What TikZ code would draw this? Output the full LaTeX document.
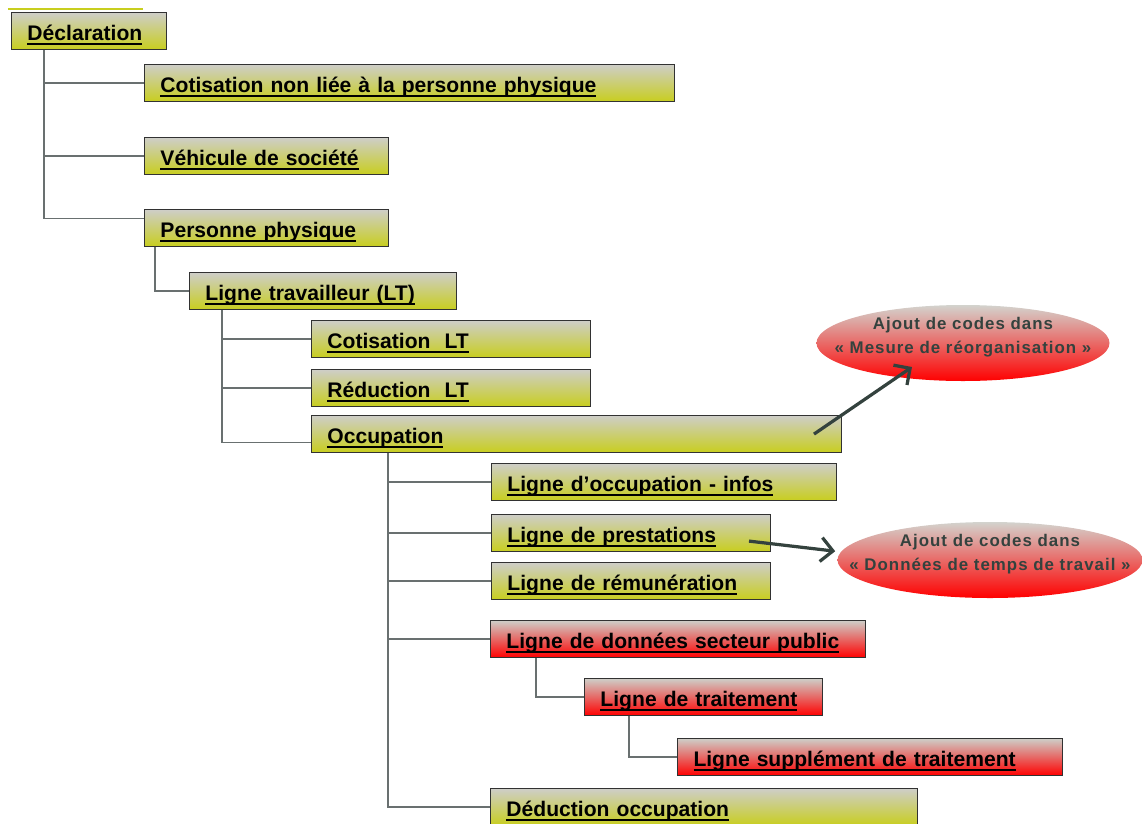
\documentclass[tikz,border=0pt]{standalone}
\usepackage{fontspec}
\setmainfont{Liberation Sans}
\newfontfamily\notefont{Liberation Sans}[LetterSpace=6.0]
\usepackage{tikz}
\usetikzlibrary{shapes.geometric,arrows.meta}

\definecolor{boxgray}{RGB}{206,206,200}
\definecolor{boxyellow}{RGB}{200,206,30}
\definecolor{boxred}{RGB}{255,0,0}
\definecolor{framegray}{RGB}{50,50,50}
\definecolor{linegray}{RGB}{105,112,112}
\definecolor{notegray}{RGB}{52,66,62}

% underlined box label, same depth for every line
\newcommand\lbl[1]{\setbox0\hbox{#1}\rlap{\rule[-3.2pt]{\wd0}{1pt}}\box0}
% centred line of zero width, so the ellipse keeps its own size
\newcommand\noteline[1]{\makebox[0pt]{#1}}

\begin{document}
\begin{tikzpicture}[
    box/.style={rectangle, draw=framegray, line width=0.7pt, top color=boxgray, bottom color=boxyellow, minimum height=0.93cm, inner xsep=0.4cm, text height=13.2pt, text depth=0pt, anchor=north west, align=left, font=\fontsize{15}{18}\selectfont\bfseries},
    redbox/.style={box, bottom color=boxred},
    note/.style={ellipse, top color=boxgray!90, bottom color=boxred, draw=none, inner sep=0pt, text height=17.5pt, text depth=3pt, align=center, text=notegray, font=\notefont\fontsize{12}{17}\selectfont\bfseries},
    link/.style={draw=linegray, line width=0.9pt},
    arrow/.style={-{Straight Barb[length=0.3cm, width=0.6cm]}, draw=notegray, line width=2.3pt}
]

\useasboundingbox (0,0) rectangle (28.575,-20.575);
\clip (0,0) rectangle (28.575,-20.575);

% leftover rule above the root
\draw[boxyellow, line width=0.8pt] (0.2,-0.225) -- (3.575,-0.225);

% Level 1
\node[box, text width=3.075cm] at (0.275,-0.3) (decl) {\lbl{Déclaration}};

% Level 2
\node[box, text width=12.45cm] at (3.6,-1.6) (cotis) {\lbl{Cotisation non liée à la personne physique}};
\node[box, text width=5.3cm] at (3.6,-3.425) (vehic) {\lbl{Véhicule de société}};
\node[box, text width=5.3cm] at (3.6,-5.225) (perso) {\lbl{Personne physique}};

% Level 3
\node[box, text width=5.875cm] at (4.725,-6.8) (lt) {\lbl{Ligne travailleur (LT)}};

% Level 4
\node[box, text width=6.175cm] at (7.775,-8.0) (cotlt) {\lbl{Cotisation\ \ LT}};
\node[box, text width=6.175cm] at (7.775,-9.225) (redlt) {\lbl{Réduction\ \ LT}};
\node[box, text width=12.45cm] at (7.775,-10.375) (occ) {\lbl{Occupation}};

% Level 5
\node[box, text width=7.825cm] at (12.275,-11.575) (ligocc) {\lbl{Ligne d’occupation - infos}};
\node[box, text width=6.175cm] at (12.275,-12.85) (ligpres) {\lbl{Ligne de prestations}};
\node[box, text width=6.175cm] at (12.275,-14.05) (ligrem) {\lbl{Ligne de rémunération}};
\node[redbox, text width=8.575cm] at (12.25,-15.5) (ligpub) {\lbl{Ligne de données secteur public}};
\node[redbox, text width=5.15cm] at (14.6,-16.95) (ligtrait) {\lbl{Ligne de traitement}};
\node[redbox, text width=8.825cm] at (16.925,-18.45) (ligsup) {\lbl{Ligne supplément de traitement}};
\node[box, text width=9.875cm] at (12.25,-19.7) (deduc) {\lbl{Déduction occupation}};

% Notes
\node[note, minimum width=7.325cm, minimum height=1.9cm] at (24.075,-8.575) (note1) {\noteline{Ajout de codes dans}\\\noteline{« Mesure de réorganisation »}};
\node[note, minimum width=7.625cm, minimum height=1.9cm] at (24.75,-14.0) (note2) {\noteline{Ajout de codes dans}\\\noteline{« Données de temps de travail »}};

% Tree lines
\draw[link] ([xshift=0.825cm]decl.south west) |- (cotis.west);
\draw[link] ([xshift=0.825cm]decl.south west) |- (vehic.west);
\draw[link] ([xshift=0.825cm]decl.south west) |- ([yshift=0.24cm]perso.west);
\draw[link] ([xshift=0.275cm]perso.south west) |- (lt.west);
\draw[link] ([xshift=0.825cm]lt.south west) |- (cotlt.west);
\draw[link] ([xshift=0.825cm]lt.south west) |- (redlt.west);
\draw[link] ([xshift=0.825cm]lt.south west) |- ([yshift=-0.21cm]occ.west);
\draw[link] ([xshift=1.925cm]occ.south west) |- (ligocc.west);
\draw[link] ([xshift=1.925cm]occ.south west) |- (ligpres.west);
\draw[link] ([xshift=1.925cm]occ.south west) |- (ligrem.west);
\draw[link] ([xshift=1.925cm]occ.south west) |- (ligpub.west);
\draw[link] ([xshift=1.925cm]occ.south west) |- (deduc.west);
\draw[link] ([xshift=1.15cm]ligpub.south west) |- (ligtrait.west);
\draw[link] ([xshift=1.125cm]ligtrait.south west) |- (ligsup.west);

% Arrows to notes
\draw[arrow] ([xshift=-0.7cm]occ.east) -- ([shift={(-1.275,-0.6)}]note1.center);
\draw[arrow] ([xshift=-0.55cm, yshift=-0.2cm]ligpres.east) -- ([xshift=-0.05cm, yshift=0.22cm]note2.west);

\end{tikzpicture}
\end{document}
